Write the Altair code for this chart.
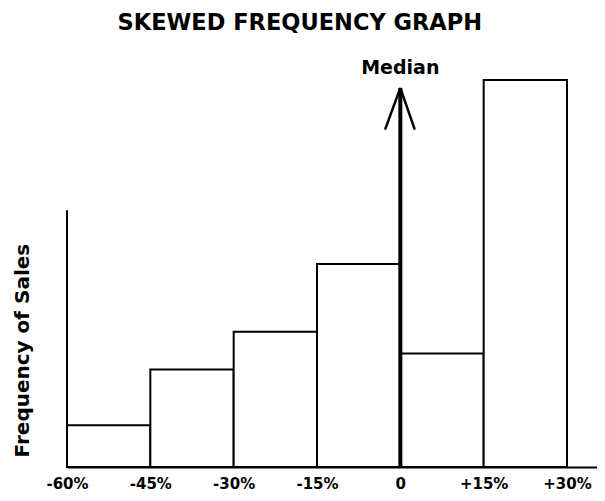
import altair as alt
import pandas as pd

# Histogram bins (percent change) and frequencies (relative units)
bin_start = [-60, -45, -30, -15, 0, 15]
bin_end = [-45, -30, -15, 0, 15, 30]
frequency = [42, 98, 136, 204, 114, 389]

tick_values = [-60, -45, -30, -15, 0, 15, 30]
tick_labels = ["-60%", "-45%", "-30%", "-15%", "0", "+15%", "+30%"]

title_text = "SKEWED FREQUENCY GRAPH"
y_title_text = "Frequency of Sales"
median_text = "Median"

bars_df = pd.DataFrame({"start": bin_start, "end": bin_end, "freq": frequency})

xs = alt.Scale(domain=[-60, 35.4], nice=False, zero=False)
ys = alt.Scale(domain=[0, 400], nice=False, zero=False)

label_expr = ""
for v, l in zip(tick_values, tick_labels):
    label_expr += f"datum.value == {v} ? '{l}' : "
label_expr += "''"

bars = alt.Chart(bars_df).mark_rect(
    fill="white", stroke="black", strokeWidth=2
).encode(
    x=alt.X("start:Q", scale=xs,
            axis=alt.Axis(values=tick_values, labelExpr=label_expr, title=None,
                          grid=False, ticks=False, domainColor="black",
                          domainWidth=2, labelFont="DejaVu Sans",
                          labelFontWeight="bold", labelFontSize=15,
                          labelColor="black", labelPadding=21,
                          labelBaseline="alphabetic",
                          labelOverlap=False, labelFlush=False)),
    x2="end:Q",
    y=alt.Y("freq:Q", scale=ys, axis=None),
    y2=alt.datum(0),
)

# y axis line (partial height)
yline_df = pd.DataFrame({"x": [-60], "y0": [0], "y1": [258]})
yline = alt.Chart(yline_df).mark_rule(color="black", strokeWidth=2).encode(
    x=alt.X("x:Q", scale=xs), y=alt.Y("y0:Q", scale=ys), y2="y1:Q"
)

# Median arrow
median_df = pd.DataFrame({"x": [0], "y0": [0], "y1": [381]})
median_line = alt.Chart(median_df).mark_rule(color="black", strokeWidth=4).encode(
    x=alt.X("x:Q", scale=xs), y=alt.Y("y0:Q", scale=ys), y2="y1:Q"
)
arms_df = pd.DataFrame({"x": [0, 0], "y": [381, 381], "x2": [-2.75, 2.6], "y2": [339, 339]})
arms = alt.Chart(arms_df).mark_rule(color="black", strokeWidth=2.5).encode(
    x=alt.X("x:Q", scale=xs), y=alt.Y("y:Q", scale=ys), x2="x2:Q", y2="y2:Q"
)

text_df = pd.DataFrame({
    "x": [0, -18.1],
    "y": [395, 439],
    "t": [median_text, title_text],
})
median_label = alt.Chart(text_df.iloc[[0]]).mark_text(
    font="DejaVu Sans", fontWeight="bold", fontSize=19, color="black",
    baseline="alphabetic", align="center"
).encode(x=alt.X("x:Q", scale=xs), y=alt.Y("y:Q", scale=ys), text="t:N")

title_label = alt.Chart(text_df.iloc[[1]]).mark_text(
    font="DejaVu Sans", fontWeight="bold", fontSize=22.5, color="black",
    baseline="alphabetic", align="center"
).encode(x=alt.X("x:Q", scale=xs), y=alt.Y("y:Q", scale=ys), text="t:N")

ytitle_df = pd.DataFrame({"x": [-66.8], "y": [117], "t": [y_title_text]})
ytitle = alt.Chart(ytitle_df).mark_text(
    font="DejaVu Sans", fontWeight="bold", fontSize=20, color="black",
    baseline="alphabetic", align="center", angle=270
).encode(x=alt.X("x:Q", scale=xs), y=alt.Y("y:Q", scale=ys), text="t:N")

chart = alt.layer(
    bars, yline, median_line, arms, median_label, title_label, ytitle
).properties(
    width=530, height=398,
    autosize=alt.AutoSizeParams(type="none"),
    padding={"left": 59, "top": 61, "right": 0, "bottom": 26},
    background="white",
).configure_view(stroke=None)

chart.save("out.html", embed_options={"renderer": "svg", "actions": False})
